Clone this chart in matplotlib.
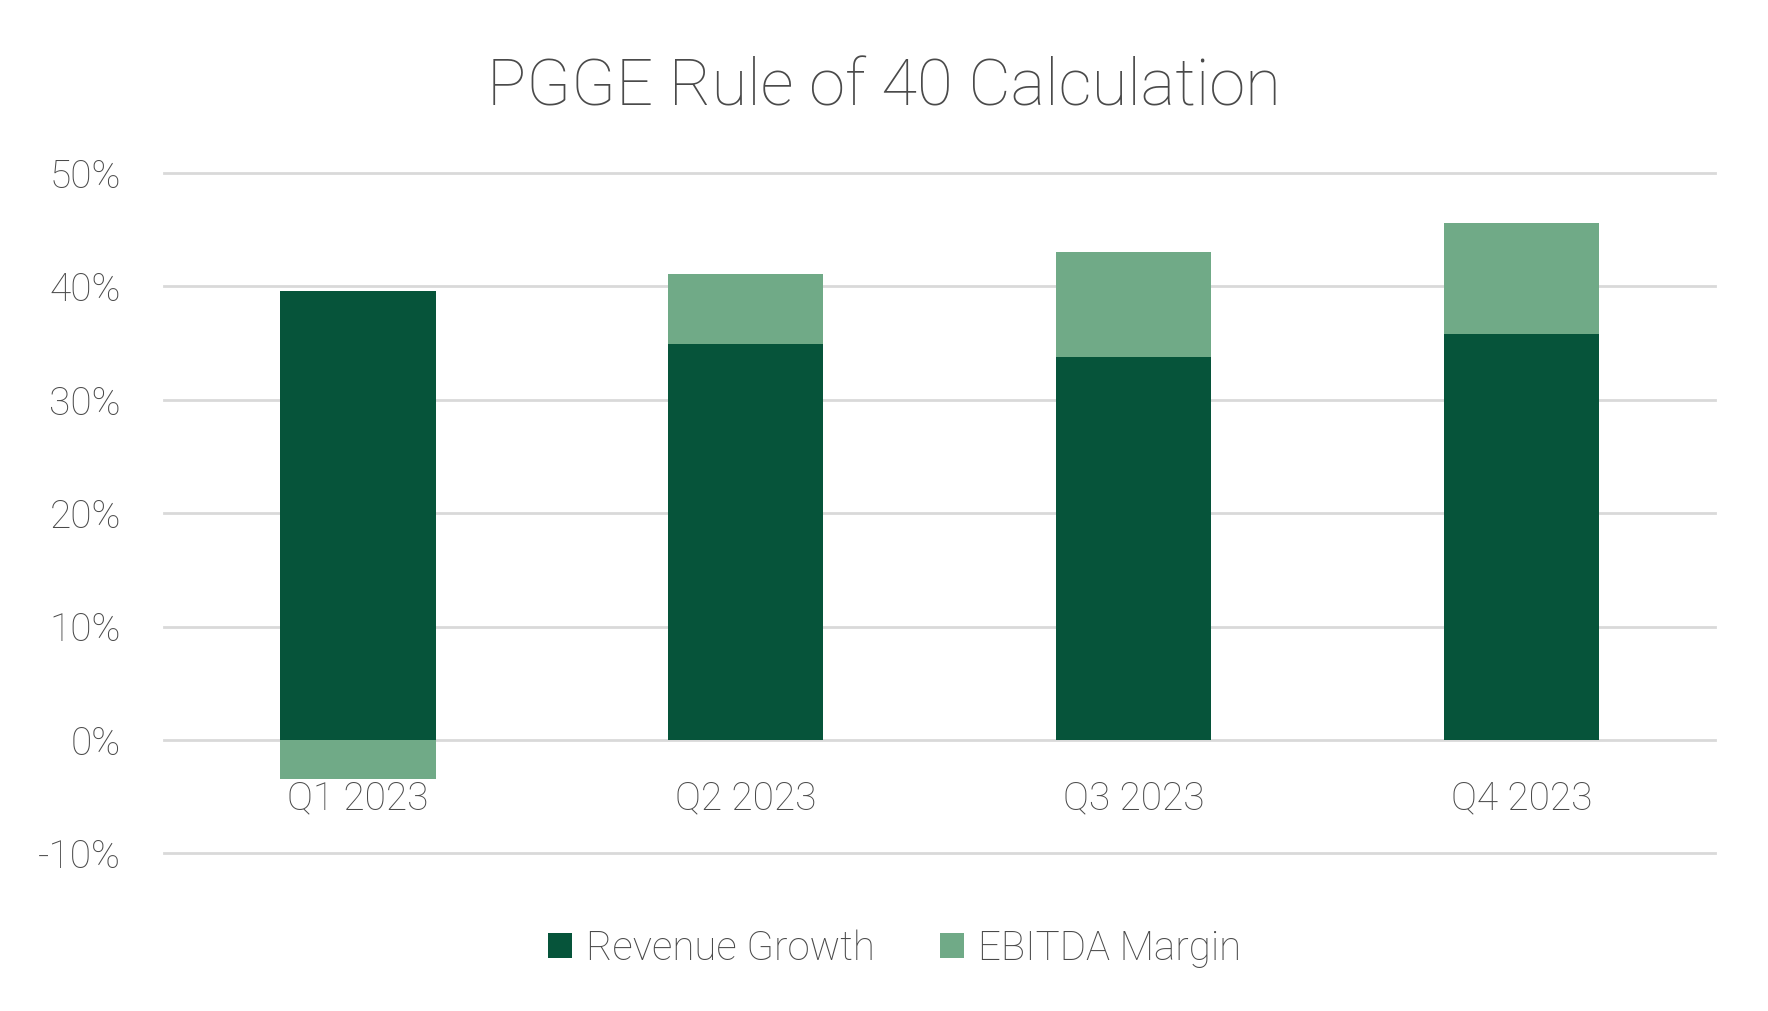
import numpy as np
import matplotlib
matplotlib.use('Agg')
import matplotlib.pyplot as plt

quarters = ['Q1 2023', 'Q2 2023', 'Q3 2023', 'Q4 2023']
revenue_growth = [39.6, 34.9, 33.8, 35.8]
ebitda_margin = [-3.4, 6.2, 9.2, 9.8]
yticks = [-10, 0, 10, 20, 30, 40, 50]

dark = '#06543A'
light = '#70AA87'
grey = '#4a4a4a'

plt.rcParams['font.family'] = ['Roboto', 'DejaVu Sans']
plt.rcParams['font.weight'] = 'light'

fig = plt.figure(figsize=(17.68, 10.11), dpi=100)
ax = fig.add_axes([0.0928, 0.1559, 0.8773, 0.673])

x = np.arange(len(quarters))
rev = np.array(revenue_growth)
ebit = np.array(ebitda_margin)
bottom = np.where(ebit >= 0, rev, 0)

ax.bar(x, rev, width=0.4, color=dark, label='Revenue Growth', zorder=3)
ax.bar(x, ebit, width=0.4, bottom=bottom, color=light, label='EBITDA Margin', zorder=3)

for t in yticks:
    ax.axhline(t, color='#d9d9d9', lw=2, zorder=2, clip_on=False)

ax.set_xlim(-0.5, 3.5)
ax.set_ylim(-10, 50)
ax.set_yticks(yticks)
ax.set_yticklabels([f'{t}%' for t in yticks])
ax.set_xticks(x)
ax.set_xticklabels(quarters)
ax.spines['bottom'].set_position(('data', 0))
for s in ax.spines.values():
    s.set_visible(False)
ax.tick_params(axis='y', length=0, pad=31, labelsize=28, labelcolor=grey)
ax.tick_params(axis='x', length=0, pad=29, labelsize=28, labelcolor=grey)

fig.text(0.5, 0.896, 'PGGE Rule of 40 Calculation', ha='center', va='baseline',
         fontsize=47, color=grey)

fig.legend(loc='center', bbox_to_anchor=(0.506, 0.062), ncol=2, frameon=False,
           fontsize=29, labelcolor=grey, handlelength=0.6, handleheight=0.6,
           handletextpad=0.35, columnspacing=1.6)

fig.savefig('out.png', dpi=100)
